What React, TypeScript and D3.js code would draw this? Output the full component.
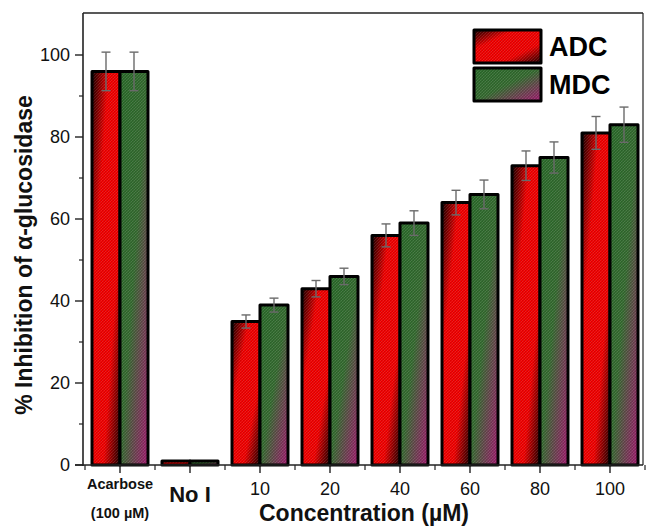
import React from "react";
import * as d3 from "d3";

const categories = ["Acarbose", "No I", "10", "20", "40", "60", "80", "100"];
const seriesNames = ["ADC", "MDC"];
const adcValues = [96, 1, 35, 43, 56, 64, 73, 81];
const mdcValues = [96, 1, 39, 46, 59, 66, 75, 83];
const adcErrors = [4.7, 0, 1.6, 2.0, 2.8, 3.0, 3.6, 4.0];
const mdcErrors = [4.7, 0, 1.7, 2.0, 3.0, 3.5, 3.8, 4.3];
const yTicks = [0, 20, 40, 60, 80, 100];
const yMinorTicks = [10, 30, 50, 70, 90];

const W = 646;
const H = 526;
const FONT = "'Liberation Sans', Arial, Helvetica, sans-serif";

export default function App() {
  const frameL = 83;
  const frameR = 643;
  const frameT = 13;
  const y = d3.scaleLinear().domain([0, 100]).range([465, 55]);
  const x = d3.scaleBand<string>().domain(categories).range([85, 645]).padding(0);
  const bw = x.bandwidth();
  const inner = d3.scaleBand<string>().domain(seriesNames).range([bw * 0.1, bw * 0.9]).padding(0);
  const y0 = y(0);

  const series = [
    { name: "ADC", values: adcValues, errors: adcErrors, fill: "url(#gradADC)" },
    { name: "MDC", values: mdcValues, errors: mdcErrors, fill: "url(#gradMDC)" },
  ];

  const boundaries = categories.map((c) => x(c)!).concat([x(categories[categories.length - 1])! + bw]);

  return (
    <svg
      width={W}
      height={H}
      style={{ position: "absolute", left: 0, top: 0, background: "#fff" }}
      fontFamily={FONT}
    >
      <defs>
        <linearGradient id="gradADC" x1="0" y1="0" x2="1" y2="1">
          <stop offset="0" stopColor="#140000" />
          <stop offset="0.3" stopColor="#ee0000" />
          <stop offset="0.7" stopColor="#ee0000" />
          <stop offset="1" stopColor="#1a0000" />
        </linearGradient>
        <linearGradient id="gradMDC" x1="0" y1="0" x2="1" y2="1">
          <stop offset="0" stopColor="#2a6a2a" />
          <stop offset="0.5" stopColor="#356a30" />
          <stop offset="1" stopColor="#a21a70" />
        </linearGradient>
        <pattern id="hatch" patternUnits="userSpaceOnUse" width="3" height="3">
          <path d="M0,3 L3,0" stroke="rgba(255,255,255,0.15)" strokeWidth="0.8" />
          <path d="M0,0 L3,3" stroke="rgba(0,0,0,0.12)" strokeWidth="0.8" />
        </pattern>
      </defs>

      {/* frame */}
      <line x1={frameL} x2={frameR} y1={frameT} y2={frameT} stroke="#222" strokeWidth={1.5} />
      <line x1={frameR} x2={frameR} y1={frameT} y2={y0} stroke="#222" strokeWidth={1.2} />

      {/* bars */}
      {series.map((s) =>
        categories.map((c, i) => {
          const bx = x(c)! + inner(s.name)!;
          const top = y(s.values[i]);
          const h = y0 - top;
          return (
            <g key={s.name + c}>
              <rect x={bx} y={top} width={inner.bandwidth()} height={h} fill={s.fill} />
              <rect x={bx} y={top} width={inner.bandwidth()} height={h} fill="url(#hatch)" />
              <rect
                x={bx}
                y={top}
                width={inner.bandwidth()}
                height={h}
                fill="none"
                stroke="#000"
                strokeWidth={3}
                strokeLinejoin="round"
              />
            </g>
          );
        })
      )}

      {/* error bars */}
      {series.map((s) =>
        categories.map((c, i) => {
          if (!s.errors[i]) return null;
          const cx = x(c)! + inner(s.name)! + inner.bandwidth() / 2;
          const hi = y(s.values[i] + s.errors[i]);
          const lo = y(s.values[i] - s.errors[i]);
          return (
            <g key={"e" + s.name + c} stroke="#6a6a6a" strokeWidth={1.4}>
              <line x1={cx} x2={cx} y1={hi} y2={lo} />
              <line x1={cx - 4.5} x2={cx + 4.5} y1={hi} y2={hi} />
              <line x1={cx - 4.5} x2={cx + 4.5} y1={lo} y2={lo} />
            </g>
          );
        })
      )}

      {/* y axis */}
      <line x1={frameL} x2={frameL} y1={frameT} y2={y0 + 1} stroke="#222" strokeWidth={1.6} />
      {yTicks.map((t) => (
        <g key={"yt" + t}>
          <line x1={frameL - 8} x2={frameL} y1={y(t)} y2={y(t)} stroke="#222" strokeWidth={1.4} />
          <text x={frameL - 13} y={y(t)} dy="0.35em" textAnchor="end" fontSize={18} fill="#111">
            {t}
          </text>
        </g>
      ))}
      {yMinorTicks.map((t) => (
        <line key={"ym" + t} x1={frameL - 4} x2={frameL} y1={y(t)} y2={y(t)} stroke="#222" strokeWidth={1.2} />
      ))}

      {/* x axis */}
      <line x1={frameL - 8} x2={frameR} y1={y0} y2={y0} stroke="#222" strokeWidth={1.6} />
      {categories.map((c) => (
        <line
          key={"xt" + c}
          x1={x(c)! + bw / 2}
          x2={x(c)! + bw / 2}
          y1={y0}
          y2={y0 + 8}
          stroke="#222"
          strokeWidth={1.4}
        />
      ))}
      {boundaries.map((b, i) => (
        <line key={"xm" + i} x1={b} x2={b} y1={y0} y2={y0 + 5} stroke="#222" strokeWidth={1.2} />
      ))}

      {/* x tick labels */}
      {categories.map((c) => {
        const cx = x(c)! + bw / 2;
        if (c === "Acarbose") {
          return (
            <g key={"xl" + c} fontWeight="bold" fontSize={14.5} fill="#111" textAnchor="middle">
              <text x={cx} y={489}>Acarbose</text>
              <text x={cx} y={518}>(100 µM)</text>
            </g>
          );
        }
        if (c === "No I") {
          return (
            <text key={"xl" + c} x={cx} y={502} textAnchor="middle" fontWeight="bold" fontSize={22} fill="#111">
              No I
            </text>
          );
        }
        return (
          <text key={"xl" + c} x={cx} y={495} textAnchor="middle" fontSize={18} fill="#111">
            {c}
          </text>
        );
      })}

      {/* axis titles */}
      <text x={364} y={521} textAnchor="middle" fontWeight="bold" fontSize={23} fill="#111">
        Concentration (µM)
      </text>
      <text
        transform="translate(32,255) rotate(-90)"
        textAnchor="middle"
        fontWeight="bold"
        fontSize={23}
        fill="#111"
      >
        % Inhibition of α-glucosidase
      </text>

      {/* legend */}
      {series.map((s, i) => {
        const ly = 30 + i * 38;
        return (
          <g key={"lg" + s.name}>
            <rect x={474} y={ly} width={67} height={33} fill={s.fill} />
            <rect x={474} y={ly} width={67} height={33} fill="url(#hatch)" />
            <rect
              x={474}
              y={ly}
              width={67}
              height={33}
              fill="none"
              stroke="#000"
              strokeWidth={3}
              strokeLinejoin="round"
            />
            <text x={549} y={ly + 26} fontWeight="bold" fontSize={27} fill="#000">
              {s.name}
            </text>
          </g>
        );
      })}
    </svg>
  );
}
